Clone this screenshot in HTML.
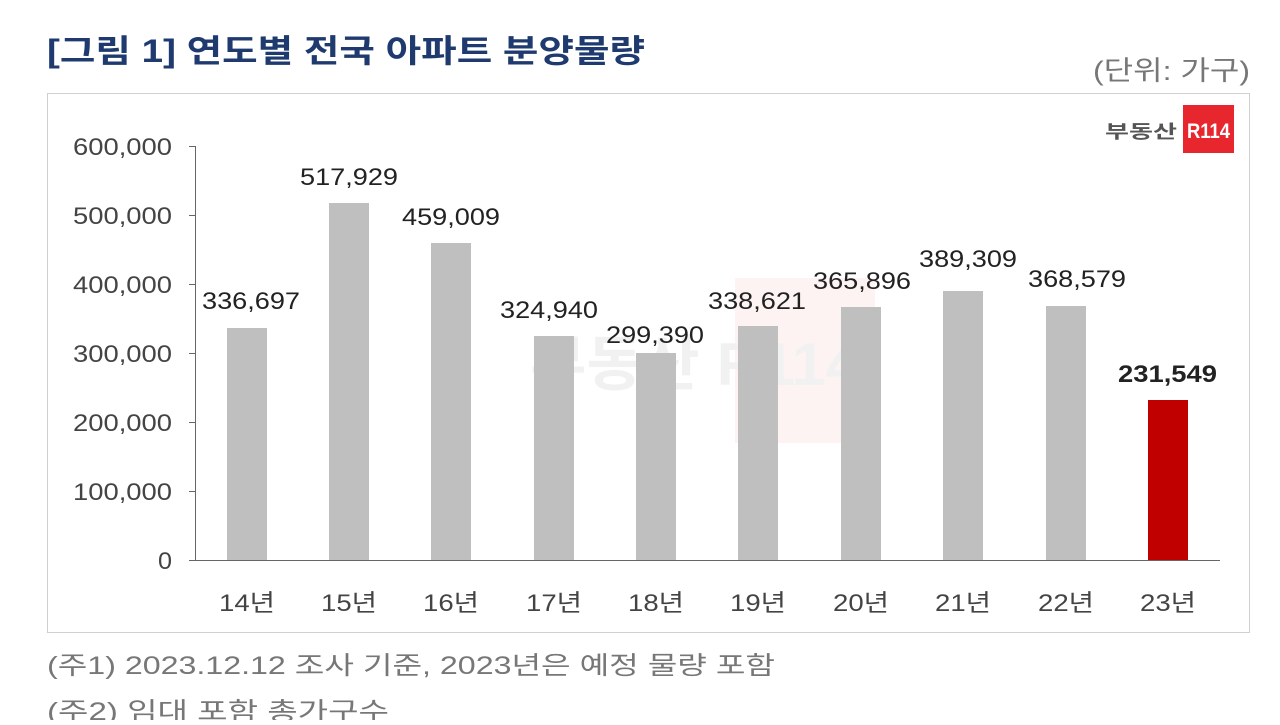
<!DOCTYPE html>
<html><head><meta charset="utf-8"><style>
body{margin:0;background:#fff;width:1280px;height:720px;overflow:hidden;font-family:"Liberation Sans","Noto Sans CJK KR",sans-serif;}
</style></head><body>
<svg width="1280" height="720" xmlns="http://www.w3.org/2000/svg" font-family="Liberation Sans, Noto Sans CJK KR, sans-serif">
<text x="47" y="62" font-size="32" font-weight="bold" fill="#1f3a6e" textLength="598" lengthAdjust="spacingAndGlyphs">[그림 1] 연도별 전국 아파트 분양물량</text>
<text x="1093" y="80" font-size="27" fill="#777" textLength="157" lengthAdjust="spacingAndGlyphs">(단위: 가구)</text>
<rect x="47.5" y="93.5" width="1202" height="539" fill="#fff" stroke="#d0d0d0"/>
<text x="1105" y="138" font-size="18" font-weight="bold" fill="#555" textLength="72" lengthAdjust="spacingAndGlyphs">부동산</text>
<rect x="1183" y="105" width="51" height="48" fill="#e8262d"/>
<text x="1187" y="138" font-size="21" font-weight="bold" fill="#fff" textLength="43" lengthAdjust="spacingAndGlyphs">R114</text>
<g opacity="0.05"><rect x="735" y="278" width="140" height="165" fill="#e8262d"/><text x="530" y="385" font-size="60" font-weight="bold" fill="#000" textLength="330" lengthAdjust="spacingAndGlyphs">부동산 R114</text></g>
<line x1="195.5" y1="146" x2="195.5" y2="560" stroke="#666"/>
<line x1="195" y1="560.5" x2="1220" y2="560.5" stroke="#666"/>
<g stroke="#666">
<line x1="189" y1="146.5" x2="195" y2="146.5"/><line x1="189" y1="215.5" x2="195" y2="215.5"/><line x1="189" y1="284.5" x2="195" y2="284.5"/><line x1="189" y1="353.5" x2="195" y2="353.5"/><line x1="189" y1="422.5" x2="195" y2="422.5"/><line x1="189" y1="491.5" x2="195" y2="491.5"/><line x1="189" y1="560.5" x2="195" y2="560.5"/>
</g>
<g font-size="24" fill="#444">
<text x="73" y="155" textLength="99" lengthAdjust="spacingAndGlyphs">600,000</text>
<text x="73" y="224" textLength="99" lengthAdjust="spacingAndGlyphs">500,000</text>
<text x="73" y="293" textLength="99" lengthAdjust="spacingAndGlyphs">400,000</text>
<text x="73" y="362" textLength="99" lengthAdjust="spacingAndGlyphs">300,000</text>
<text x="73" y="431" textLength="99" lengthAdjust="spacingAndGlyphs">200,000</text>
<text x="73" y="500" textLength="99" lengthAdjust="spacingAndGlyphs">100,000</text>
<text x="158" y="569" textLength="14" lengthAdjust="spacingAndGlyphs">0</text>
</g>
<g fill="#bfbfbf">
<rect x="227" y="328" width="40" height="232"/>
<rect x="329" y="203" width="40" height="357"/>
<rect x="431" y="243" width="40" height="317"/>
<rect x="534" y="336" width="40" height="224"/>
<rect x="636" y="353" width="40" height="207"/>
<rect x="738" y="326" width="40" height="234"/>
<rect x="841" y="307" width="40" height="253"/>
<rect x="943" y="291" width="40" height="269"/>
<rect x="1046" y="306" width="40" height="254"/>
</g>
<rect x="1148" y="400" width="40" height="160" fill="#c00000"/>
<g font-size="24" fill="#222">
<text x="202" y="309" textLength="98" lengthAdjust="spacingAndGlyphs">336,697</text>
<text x="300" y="185" textLength="98" lengthAdjust="spacingAndGlyphs">517,929</text>
<text x="402" y="225" textLength="98" lengthAdjust="spacingAndGlyphs">459,009</text>
<text x="500" y="318" textLength="98" lengthAdjust="spacingAndGlyphs">324,940</text>
<text x="606" y="343" textLength="98" lengthAdjust="spacingAndGlyphs">299,390</text>
<text x="708" y="309" textLength="98" lengthAdjust="spacingAndGlyphs">338,621</text>
<text x="813" y="289" textLength="98" lengthAdjust="spacingAndGlyphs">365,896</text>
<text x="919" y="267" textLength="98" lengthAdjust="spacingAndGlyphs">389,309</text>
<text x="1028" y="287" textLength="98" lengthAdjust="spacingAndGlyphs">368,579</text>
<text x="1118" y="382" font-weight="bold" textLength="99" lengthAdjust="spacingAndGlyphs">231,549</text>
</g>
<g font-size="24" fill="#444">
<text x="219" y="611" textLength="56" lengthAdjust="spacingAndGlyphs">14년</text>
<text x="321" y="611" textLength="56" lengthAdjust="spacingAndGlyphs">15년</text>
<text x="423" y="611" textLength="56" lengthAdjust="spacingAndGlyphs">16년</text>
<text x="526" y="611" textLength="56" lengthAdjust="spacingAndGlyphs">17년</text>
<text x="628" y="611" textLength="56" lengthAdjust="spacingAndGlyphs">18년</text>
<text x="730" y="611" textLength="56" lengthAdjust="spacingAndGlyphs">19년</text>
<text x="833" y="611" textLength="56" lengthAdjust="spacingAndGlyphs">20년</text>
<text x="935" y="611" textLength="56" lengthAdjust="spacingAndGlyphs">21년</text>
<text x="1038" y="611" textLength="56" lengthAdjust="spacingAndGlyphs">22년</text>
<text x="1140" y="611" textLength="56" lengthAdjust="spacingAndGlyphs">23년</text>
</g>
<text x="47" y="674" font-size="25" fill="#777" textLength="728" lengthAdjust="spacingAndGlyphs">(주1) 2023.12.12 조사 기준, 2023년은 예정 물량 포함</text>
<text x="47" y="720" font-size="25" fill="#777" textLength="342" lengthAdjust="spacingAndGlyphs">(주2) 임대 포함 총가구수</text>
</svg>
</body></html>
